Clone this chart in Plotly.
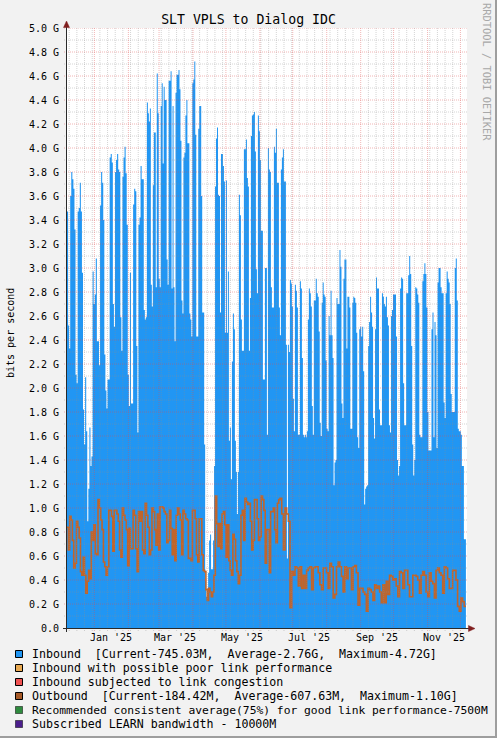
import plotly.graph_objects as go
import pandas as pd

# ---------------- data (values in Gbit/s) ----------------
IN_SEG_BOUNDS = ["2024-12-07", "2025-02-17", "2025-05-01", "2025-07-13", "2025-09-24", "2025-12-06"]

IN_SEG1 = [3.47, 2.52, 2.33, 3.60, 3.80, 3.74, 3.66, 3.32, 2.11, 2.04,
           3.47, 3.50, 3.71, 3.47, 2.96, 1.82, 1.53, 2.09, 1.64, 0.89,
           1.16, 1.67, 1.35, 1.43, 2.97, 2.70, 2.78, 3.08, 2.39, 2.39,
           2.19, 3.52, 3.80, 3.71, 3.40, 2.28, 1.98, 1.83, 2.07, 2.07,
           3.92, 3.95, 3.88, 2.70, 2.51, 3.80, 3.90, 3.95, 3.82, 3.80,
           2.59, 2.31, 3.76, 3.92, 4.01, 3.79, 3.36, 2.11, 1.85, 2.96,
           1.87, 1.87, 3.53, 3.66, 3.64, 2.35, 1.63, 3.36, 3.42, 3.85,
           3.74, 3.74, 2.65, 2.57]
IN_SEG2 = [2.59, 4.38, 4.29, 4.22, 4.33, 2.86, 2.68, 3.69, 4.13, 4.13,
           2.84, 4.62, 4.29, 2.91, 2.84, 4.35, 4.54, 3.87, 4.51, 4.40,
           4.40, 3.07, 2.86, 4.56, 4.56, 4.64, 2.83, 4.35, 2.84, 2.39,
           4.46, 4.61, 4.61, 4.65, 4.49, 4.06, 2.73, 2.62, 3.92, 3.96,
           4.27, 4.40, 4.04, 4.04, 2.62, 2.57, 2.43, 4.54, 4.57, 4.72,
           4.11, 2.43, 2.43, 4.16, 4.35, 4.35, 3.60, 2.63, 2.63, 1.53,
           0.39, 0.26, 0.33, 0.46, 0.73, 0.78, 0.49, 0.49, 0.73, 1.35,
           3.68, 4.08, 4.17, 3.61, 3.60, 2.63, 3.95, 3.95, 3.85, 3.72,
           2.46]
IN_SEG3 = [3.73, 2.46, 2.97, 1.56, 1.67, 1.24, 2.22, 2.62, 2.49, 1.56,
           1.30, 0.95, 1.30, 3.61, 3.44, 2.57, 2.31, 2.31, 3.99, 3.99,
           4.07, 3.75, 3.68, 2.31, 2.75, 4.10, 4.27, 4.28, 4.30, 3.97,
           2.99, 2.79, 4.27, 4.14, 3.90, 3.31, 3.31, 2.07, 2.07, 3.00,
           3.00, 1.61, 4.00, 3.82, 3.80, 2.84, 2.67, 2.67, 4.01, 3.96,
           4.16, 3.71, 3.71, 2.67, 2.44, 3.82, 3.92, 3.99, 3.72, 3.72,
           2.36, 0.58, 2.36, 2.30, 2.90, 2.87, 2.68, 1.91, 1.64, 2.86,
           2.81, 2.67, 1.61, 1.61, 2.89, 2.83, 2.25, 1.61, 1.59, 1.61]
IN_SEG4 = [1.59, 1.64, 2.57, 2.83, 2.79, 2.68, 1.85, 1.61, 2.73, 2.73,
           2.91, 2.79, 2.76, 2.47, 1.71, 1.60, 2.71, 2.88, 2.78, 2.76,
           2.23, 1.66, 1.64, 2.60, 2.44, 2.81, 2.44, 2.25, 1.19, 1.38,
           1.40, 2.75, 2.70, 2.70, 3.15, 3.01, 1.87, 1.75, 2.91, 3.07,
           3.07, 2.33, 2.76, 2.76, 2.67, 1.66, 1.66, 2.71, 2.76, 2.75,
           2.71, 2.46, 1.59, 1.50, 2.49, 2.51, 2.43, 2.51, 2.14, 1.03,
           1.16, 1.18, 1.19, 2.35, 2.55, 2.76, 2.63, 2.51, 1.75, 1.58,
           2.49, 2.92, 2.83, 2.83, 1.82, 1.69, 1.69, 2.79, 2.76, 2.70,
           2.68]
IN_SEG5 = [2.76, 2.59, 2.52, 1.69, 1.63, 2.60, 2.65, 2.78, 2.78, 2.78,
           2.43, 1.40, 1.27, 1.35, 2.83, 2.92, 2.91, 2.04, 1.69, 1.69,
           2.79, 2.79, 2.94, 3.10, 2.95, 2.35, 1.53, 1.27, 1.40, 2.84,
           2.83, 2.78, 2.71, 1.61, 1.59, 1.59, 2.89, 2.95, 3.04, 2.95,
           2.67, 1.80, 1.48, 1.48, 1.48, 2.49, 2.63, 1.59, 2.55, 2.44,
           1.50, 2.88, 3.00, 3.00, 2.84, 2.79, 2.79, 1.88, 1.75, 2.79,
           2.97, 2.91, 2.88, 2.70, 1.95, 1.80, 1.80, 1.80, 3.00, 3.08,
           2.73, 1.66, 1.64, 1.64, 1.61, 1.35, 1.35, 0.74, 0.74]

OUT_SEG_BOUNDS = ["2024-12-07", "2025-06-19 10:00", "2025-12-06"]
OUT_SEG1 = [0.84, 0.65, 0.93, 0.90, 0.73, 0.50, 0.54, 0.89, 0.84, 0.75,
            0.47, 0.44, 0.59, 0.44, 0.29, 0.39, 0.48, 0.41, 0.80, 0.73,
            0.86, 0.62, 0.61, 1.07, 1.00, 0.90, 0.82, 0.55, 0.51, 0.44,
            0.51, 0.98, 0.98, 0.93, 0.64, 0.98, 0.98, 0.95, 0.89, 0.65,
            0.59, 1.00, 0.94, 0.90, 0.82, 0.52, 0.83, 0.66, 0.66, 0.98,
            0.94, 0.66, 0.47, 0.97, 0.89, 0.97, 0.65, 0.62, 1.04, 0.94,
            0.84, 0.61, 0.65, 1.00, 0.97, 0.82, 0.69, 0.95, 0.65, 1.01,
            1.01, 1.00, 0.97, 0.95, 0.71, 0.73, 0.98, 0.83, 0.61, 0.82,
            0.56, 0.94, 1.00, 0.95, 0.90, 0.61, 0.98, 0.95, 0.91, 0.90,
            0.58, 0.58, 0.56, 0.98, 0.98, 0.91, 0.61, 0.55, 0.91, 0.91,
            0.61, 0.48, 0.47, 0.32, 0.23, 0.33, 0.30, 0.26, 0.30, 0.44,
            1.10, 0.87, 0.68, 0.87, 0.66, 0.95, 0.97, 0.86, 0.59, 0.86,
            0.56, 0.48, 0.44, 0.78, 0.74, 0.56, 0.47, 0.37, 0.44, 0.94,
            0.98, 0.73, 1.08, 1.05, 1.03, 1.04, 0.89, 0.65, 0.73, 1.07,
            1.07, 0.91, 0.73, 0.76, 1.10, 1.07, 0.98, 0.54, 0.82, 0.82,
            0.46, 0.97, 0.97, 1.00, 0.82, 0.71, 1.04, 1.07]
OUT_SEG2 = [1.08, 0.95, 0.65, 1.00, 0.95, 0.89, 0.17, 0.47, 0.44, 0.51,
            0.50, 0.35, 0.51, 0.33, 0.44, 0.33, 0.48, 0.50, 0.51, 0.32,
            0.50, 0.51, 0.51, 0.46, 0.36, 0.32, 0.50, 0.50, 0.46, 0.33,
            0.54, 0.51, 0.25, 0.28, 0.51, 0.55, 0.51, 0.43, 0.30, 0.51,
            0.41, 0.50, 0.50, 0.32, 0.51, 0.52, 0.46, 0.19, 0.33, 0.33,
            0.30, 0.28, 0.14, 0.33, 0.32, 0.30, 0.23, 0.36, 0.33, 0.35,
            0.30, 0.21, 0.36, 0.21, 0.39, 0.28, 0.44, 0.43, 0.40, 0.41,
            0.35, 0.26, 0.47, 0.46, 0.33, 0.48, 0.48, 0.36, 0.26, 0.26,
            0.44, 0.44, 0.43, 0.40, 0.29, 0.44, 0.47, 0.44, 0.30, 0.26,
            0.46, 0.39, 0.37, 0.25, 0.48, 0.50, 0.46, 0.44, 0.29, 0.51,
            0.50, 0.41, 0.33, 0.33, 0.48, 0.48, 0.40, 0.18, 0.14, 0.25,
            0.22, 0.18]

Y_TICK_VALUES = [round(0.2 * i, 1) for i in range(26)]
Y_TICK_LABELS = ["0.0"] + [f"{v:.1f} G" for v in Y_TICK_VALUES[1:]]
MONTH_LABELS = ["Jan '25", "Mar '25", "May '25", "Jul '25", "Sep '25", "Nov '25"]
MONTH_LABEL_DATES = ["2025-01-16", "2025-03-16", "2025-05-16", "2025-07-16", "2025-09-16", "2025-11-16"]

TITLE = "SLT VPLS to Dialog IDC"
LEGEND_TEXTS = [
    "Inbound  [Current-745.03M,  Average-2.76G,  Maximum-4.72G]",
    "Inbound with possible poor link performance",
    "Inbound subjected to link congestion",
    "Outbound  [Current-184.42M,  Average-607.63M,  Maximum-1.10G]",
    "Recommended consistent average(75%) for good link performance-7500M",
    "Subscribed LEARN bandwidth - 10000M",
]

# ---------------- styles ----------------
C_IN = "#2196F3"
C_OUT = "#C0652B"
LEGEND_COLORS = ["#2196F3", "#E8A952", "#F05252", "#A65A28", "#2E8B3E", "#4B1E8C"]
LEGEND_DASHED = [False, False, False, False, True, True]
LEGEND_SIZES = [11.6, 11.6, 11.6, 11.6, 11.3, 11.6]
C_BACK = "#F2F2F2"
C_GRID = "rgba(143,143,143,0.38)"
C_MGRID = "rgba(222,79,79,0.42)"
C_ARROW = "#801F1F"
C_AXIS = "#2A2A2A"
FONT = "DejaVu Sans Mono"

W, H = 497, 738
L, R, T, B = 67, 467, 28, 628


def px(xp):
    return (xp - L) / (R - L)


def py(yp):
    return (B - yp) / (B - T)


def build(bounds, segs):
    xs, ys = [], []
    for i, vals in enumerate(segs):
        d0 = pd.Timestamp(bounds[i])
        d1 = pd.Timestamp(bounds[i + 1])
        n = len(vals)
        for k, v in enumerate(vals):
            xs.append(d0 + (d1 - d0) * k / n)
            ys.append(v * 1e9)
    xs.append(pd.Timestamp(bounds[-1]))
    ys.append(segs[-1][-1] * 1e9)
    return xs, ys


in_x, in_y = build(IN_SEG_BOUNDS, [IN_SEG1, IN_SEG2, IN_SEG3, IN_SEG4, IN_SEG5])
out_x, out_y = build(OUT_SEG_BOUNDS, [OUT_SEG1, OUT_SEG2])

fig = go.Figure()
fig.add_trace(go.Scatter(x=in_x, y=in_y, mode="lines", line=dict(width=0, color=C_IN, shape="hv"),
                         fill="tozeroy", fillcolor=C_IN, name="Inbound", hoverinfo="skip"))
fig.add_trace(go.Scatter(x=out_x, y=out_y, mode="lines", line=dict(width=1.6, color=C_OUT, shape="hv"),
                         name="Outbound", hoverinfo="skip"))

shapes = []
# minor vertical grid (weekly)
month_starts = pd.date_range("2025-01-01", "2025-12-01", freq="MS")
for d in pd.date_range("2024-12-08", "2025-12-06", freq="W-MON"):
    if d in month_starts:
        continue
    shapes.append(dict(type="line", xref="x", yref="paper", x0=d, x1=d, y0=-3 / 600, y1=1,
                       line=dict(color=C_GRID, width=1, dash="1px,1px"), layer="above"))
# minor horizontal grid
for i in range(1, 50):
    if i % 2 == 1:
        shapes.append(dict(type="line", xref="paper", yref="y", x0=-3 / 400, x1=1, y0=i * 0.1e9, y1=i * 0.1e9,
                           line=dict(color=C_GRID, width=1, dash="1px,1px"), layer="above"))
# major vertical grid (monthly)
for d in month_starts:
    shapes.append(dict(type="line", xref="x", yref="paper", x0=d, x1=d, y0=-3 / 600, y1=1,
                       line=dict(color=C_MGRID, width=1, dash="1px,1px"), layer="above"))
# major horizontal grid
for v in Y_TICK_VALUES[1:]:
    shapes.append(dict(type="line", xref="paper", yref="y", x0=-3 / 400, x1=1, y0=v * 1e9, y1=v * 1e9,
                       line=dict(color=C_MGRID, width=1, dash="1px,1px"), layer="above"))

# axes lines and arrows
shapes.append(dict(type="line", xref="paper", yref="paper", x0=px(63), x1=px(471), y0=py(628.5), y1=py(628.5),
                   line=dict(color=C_AXIS, width=1), layer="above"))
shapes.append(dict(type="line", xref="paper", yref="paper", x0=px(66.5), x1=px(66.5), y0=py(632), y1=py(24),
                   line=dict(color=C_AXIS, width=1), layer="above"))
shapes.append(dict(type="path", xref="paper", yref="paper",
                   path=f"M {px(63.5)} {py(27.5)} L {px(66.5)} {py(21)} L {px(69.5)} {py(27.5)} Z",
                   fillcolor=C_ARROW, line=dict(color=C_ARROW, width=0.5), layer="above"))
shapes.append(dict(type="path", xref="paper", yref="paper",
                   path=f"M {px(468.5)} {py(625.5)} L {px(475)} {py(628.5)} L {px(468.5)} {py(631.5)} Z",
                   fillcolor=C_ARROW, line=dict(color=C_ARROW, width=0.5), layer="above"))

# 3D frame of the image
shapes.append(dict(type="rect", xref="paper", yref="paper", x0=px(495), x1=px(497), y0=py(738), y1=py(0),
                   fillcolor="#9E9E9E", line=dict(width=0), layer="above"))
shapes.append(dict(type="rect", xref="paper", yref="paper", x0=px(0), x1=px(497), y0=py(738), y1=py(736),
                   fillcolor="#9E9E9E", line=dict(width=0), layer="above"))

annotations = []
# legend
for i, (txt, col, dashed, fs) in enumerate(zip(LEGEND_TEXTS, LEGEND_COLORS, LEGEND_DASHED, LEGEND_SIZES)):
    cy = 654 + 14 * i
    shapes.append(dict(type="rect", xref="paper", yref="paper",
                       x0=px(15.5), x1=px(22.5), y0=py(cy + 3.5), y1=py(cy - 3.5),
                       fillcolor=col,
                       line=dict(color="#000000", width=1, dash="1px,1px" if dashed else "solid"),
                       layer="above"))
    annotations.append(dict(xref="paper", yref="paper", x=px(29.5), y=py(cy), xanchor="left", yanchor="middle",
                            text=txt.replace("  ", " \u00a0"), showarrow=False,
                            font=dict(family=FONT, size=fs, color="#000000")))

# month labels
for lab, d in zip(MONTH_LABELS, MONTH_LABEL_DATES):
    annotations.append(dict(xref="x", yref="paper", x=d, y=py(637.5), xanchor="center", yanchor="middle",
                            text=lab, showarrow=False, font=dict(family=FONT, size=10, color="#000000")))

# vertical axis title
annotations.append(dict(xref="paper", yref="paper", x=px(10), y=py(333), xanchor="center", yanchor="middle",
                        text="bits per second", textangle=-90, showarrow=False,
                        font=dict(family=FONT, size=10, color="#000000")))
# watermark
annotations.append(dict(xref="paper", yref="paper", x=px(487), y=py(72), xanchor="center", yanchor="middle",
                        text="RRDTOOL / TOBI OETIKER", textangle=90, showarrow=False,
                        font=dict(family=FONT, size=10.4, color="#A8A8A8")))

fig.update_layout(
    width=W, height=H,
    margin=dict(l=L, r=W - R, t=T, b=H - B, pad=0),
    paper_bgcolor=C_BACK, plot_bgcolor="#FFFFFF",
    font=dict(family=FONT, size=10, color="#000000"),
    showlegend=False,
    title=dict(text=TITLE, x=0.5, xref="container", xanchor="center", y=1 - 19 / H, yref="container",
               yanchor="middle", font=dict(family=FONT, size=13.2, color="#000000")),
    xaxis=dict(type="date", range=["2024-12-07", "2025-12-07"], showgrid=False, zeroline=False,
               showline=False, showticklabels=False, ticks="", automargin=False, fixedrange=True),
    yaxis=dict(range=[0, 5e9], tickmode="array", tickvals=[v * 1e9 for v in Y_TICK_VALUES],
               ticktext=Y_TICK_LABELS, showgrid=False, zeroline=False, showline=False, ticks="",
               ticklabelstandoff=7, automargin=False, fixedrange=True,
               tickfont=dict(family=FONT, size=10, color="#000000")),
    shapes=shapes,
    annotations=annotations,
)

fig.write_html(
    "out.html",
    config={"displayModeBar": False, "staticPlot": True},
    post_script="document.body.style.margin='0';document.body.style.overflow='hidden';",
)
